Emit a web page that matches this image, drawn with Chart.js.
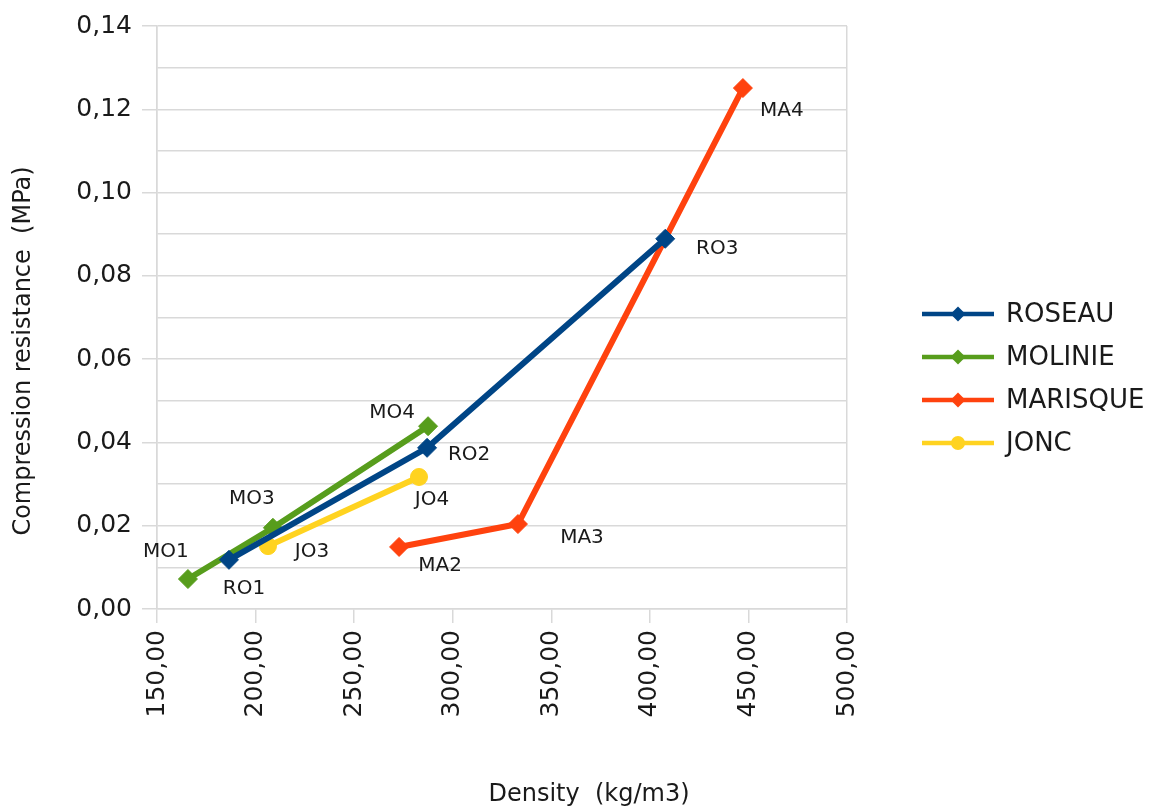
<!DOCTYPE html>
<html><head><meta charset="utf-8">
<script src="https://cdn.jsdelivr.net/npm/chart.js@4/dist/chart.umd.min.js"></script>
<style>html,body{margin:0;padding:0;background:#fff;}#wrap{width:1155px;height:809px;position:relative;}</style>
</head><body><div id="wrap"><canvas id="c" width="1155" height="809"></canvas></div>
<script>
// ---- data ----
const seriesNames = ['ROSEAU', 'MOLINIE', 'MARISQUE', 'JONC'];
const roseauX = [186.5, 287.0, 407.8];
const roseauY = [0.0118, 0.0387, 0.0889];
const roseauLabels = ['RO1', 'RO2', 'RO3'];
const molinieX = [165.7, 208.8, 287.5];
const molinieY = [0.0072, 0.0195, 0.0439];
const molinieLabels = ['MO1', 'MO3', 'MO4'];
const marisqueX = [272.8, 333.1, 447.2];
const marisqueY = [0.0149, 0.0204, 0.1251];
const marisqueLabels = ['MA2', 'MA3', 'MA4'];
const joncX = [206.3, 282.9];
const joncY = [0.0151, 0.0317];
const joncLabels = ['JO3', 'JO4'];
const xTickLabels = ['150,00', '200,00', '250,00', '300,00', '350,00', '400,00', '450,00', '500,00'];
const yTickLabels = ['0,00', '0,02', '0,04', '0,06', '0,08', '0,10', '0,12', '0,14'];
const xTitle = 'Density  (kg/m3)';
const yTitle = 'Compression resistance  (MPa)';

// ---- styles ----
const FONT = '"DejaVu Sans", sans-serif';
const TEXT = '#1a1a1a';
const GRID = '#d9d9d9';
const colors = ['#004586', '#579d1c', '#ff420e', '#ffd320'];
const styles = ['rectRot', 'rectRot', 'rectRot', 'circle'];
const labelOffsets = {
  MO1: [-22, -27], RO1: [15, 29], MO3: [-21, -29], JO3: [44, 6], MO4: [-36, -13],
  RO2: [42, 7], JO4: [13, 23], MA2: [41, 19], MA3: [64, 14], MA4: [39, 23], RO3: [52, 10]
};

function pts(xs, ys) { return xs.map((x, i) => ({x: x, y: ys[i]})); }
const seriesX = [roseauX, molinieX, marisqueX, joncX];
const seriesY = [roseauY, molinieY, marisqueY, joncY];
const seriesLabels = [roseauLabels, molinieLabels, marisqueLabels, joncLabels];

const datasets = seriesNames.map((name, i) => ({
  label: name,
  data: pts(seriesX[i], seriesY[i]),
  pointLabels: seriesLabels[i],
  showLine: true,
  borderColor: colors[i],
  backgroundColor: colors[i],
  borderWidth: 6,
  pointStyle: styles[i],
  pointRadius: styles[i] === 'circle' ? 8.5 : 9.5,
  pointHoverRadius: styles[i] === 'circle' ? 8.5 : 9.5,
  pointBorderWidth: 1,
  tension: 0
}));

const labelPlugin = {
  id: 'pointLabelsP',
  afterDatasetsDraw(chart) {
    const ctx = chart.ctx;
    ctx.save();
    ctx.font = '20px ' + FONT;
    ctx.fillStyle = TEXT;
    ctx.textAlign = 'center';
    ctx.textBaseline = 'middle';
    chart.data.datasets.forEach((ds, di) => {
      const meta = chart.getDatasetMeta(di);
      meta.data.forEach((el, j) => {
        const name = ds.pointLabels[j];
        const off = labelOffsets[name] || [0, 0];
        ctx.fillText(name, el.x + off[0], el.y + off[1]);
      });
    });
    ctx.restore();
  }
};

const legendPos = {lineX1: 922, lineX2: 994, textX: 1006, y0: 314, dy: 43};
const decorPlugin = {
  id: 'decor',
  afterDraw(chart) {
    const ctx = chart.ctx;
    ctx.save();
    // axis titles
    ctx.fillStyle = TEXT;
    ctx.font = '24px ' + FONT;
    ctx.textAlign = 'center';
    ctx.textBaseline = 'middle';
    ctx.fillText(xTitle, 589, 795);
    ctx.save();
    ctx.translate(24, 351);
    ctx.rotate(-Math.PI / 2);
    ctx.fillText(yTitle, 0, 0);
    ctx.restore();
    // legend
    chart.data.datasets.forEach((ds, i) => {
      const y = legendPos.y0 + i * legendPos.dy;
      ctx.strokeStyle = ds.borderColor;
      ctx.fillStyle = ds.borderColor;
      ctx.lineWidth = 4.5;
      ctx.beginPath();
      ctx.moveTo(legendPos.lineX1, y);
      ctx.lineTo(legendPos.lineX2, y);
      ctx.stroke();
      const cx = (legendPos.lineX1 + legendPos.lineX2) / 2;
      ctx.beginPath();
      if (ds.pointStyle === 'circle') {
        ctx.arc(cx, y, 7, 0, Math.PI * 2);
      } else {
        const r = 7.5;
        ctx.moveTo(cx - r, y); ctx.lineTo(cx, y - r); ctx.lineTo(cx + r, y); ctx.lineTo(cx, y + r); ctx.closePath();
      }
      ctx.fill();
      ctx.fillStyle = TEXT;
      ctx.font = '26px ' + FONT;
      ctx.textAlign = 'left';
      ctx.textBaseline = 'middle';
      ctx.fillText(ds.label, legendPos.textX, y + 1);
    });
    ctx.restore();
  }
};

new Chart(document.getElementById('c'), {
  type: 'scatter',
  data: {datasets: datasets},
  plugins: [labelPlugin, decorPlugin],
  options: {
    responsive: false,
    devicePixelRatio: 1,
    animation: false,
    layout: {padding: {left: 0, right: 308, top: 26, bottom: 0}},
    plugins: {legend: {display: false}, tooltip: {enabled: false}},
    scales: {
      x: {
        type: 'linear', min: 150, max: 500,
        afterFit(scale) { scale.height = 200; },
        ticks: {
          stepSize: 50, autoSkip: false, minRotation: 90, maxRotation: 90, padding: 7,
          color: TEXT, font: {family: FONT, size: 25},
          callback: (v, i) => xTickLabels[i]
        },
        grid: {
          color: (c) => (c.index === 0 || c.index === xTickLabels.length - 1) ? GRID : 'rgba(0,0,0,0)',
          tickColor: GRID, tickLength: 14, lineWidth: 1.5
        },
        border: {color: GRID, width: 1.5}
      },
      y: {
        min: 0, max: 0.14,
        afterFit(scale) { scale.width = 157; },
        ticks: {
          stepSize: 0.01, autoSkip: false, padding: 10,
          color: TEXT, font: {family: FONT, size: 25},
          callback: (v, i) => (i % 2 === 0 ? yTickLabels[i / 2] : '')
        },
        grid: {
          color: GRID, lineWidth: 1.5,
          tickColor: (c) => (c.index % 2 === 0 ? GRID : 'rgba(0,0,0,0)'),
          tickLength: 15
        },
        border: {color: GRID, width: 1.5}
      }
    }
  }
});
</script>
</body></html>
